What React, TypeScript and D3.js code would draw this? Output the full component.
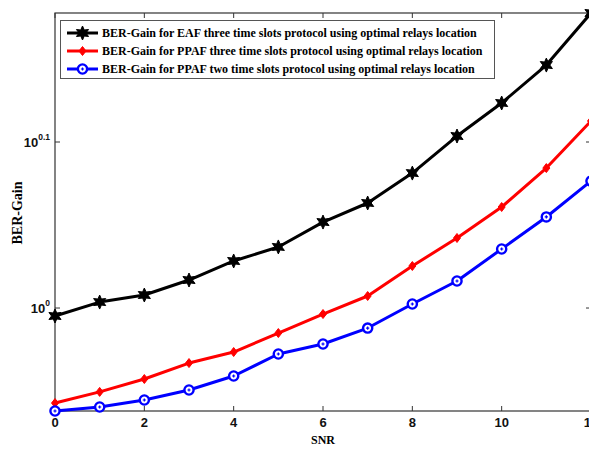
import React from "react";
import * as d3 from "d3";

const W = 589;
const H = 449;

// SNR values on the x axis
const snr = [0, 1, 2, 3, 4, 5, 6, 7, 8, 9, 10, 11, 12];

// BER-Gain series
const eafThree = [0.989, 1.0083, 1.0182, 1.0396, 1.0674, 1.0884, 1.1266, 1.1568, 1.2058, 1.2694, 1.3289, 1.4007, 1.5056];
const ppafThree = [0.8765, 0.8902, 0.9062, 0.9265, 0.9408, 0.9659, 0.9917, 1.0168, 1.06, 1.102, 1.1504, 1.2142, 1.2962];
const ppafTwo = [0.8669, 0.8717, 0.8802, 0.8925, 0.91, 0.9382, 0.9513, 0.9726, 1.0056, 1.0382, 1.0853, 1.1346, 1.1925];

const xTicks = [0, 2, 4, 6, 8, 10, 12];
const yTickExps = [0, 0.1];

const legendLabels = [
  "BER-Gain for EAF three time slots protocol using optimal relays location",
  "BER-Gain for PPAF three time slots protocol using optimal relays location",
  "BER-Gain for PPAF two time slots protocol using optimal relays location",
];

const left = 55;
const right = 591;
const top = 13;
const bottom = 411;

const x = d3.scaleLinear().domain([0, 12]).range([left, right]);
const y = d3.scaleLog().domain([0.8669, 1.5056]).range([bottom, top]);

const line = d3
  .line<number>()
  .x((_, i) => x(snr[i]))
  .y((d) => y(d));

function hexagram(r: number) {
  const pts: [number, number][] = [];
  for (let i = 0; i < 12; i++) {
    const a = (Math.PI / 6) * i - Math.PI / 2;
    const rr = i % 2 === 0 ? r : r * 0.5;
    pts.push([rr * Math.cos(a), rr * Math.sin(a)]);
  }
  return "M" + pts.map((p) => p.join(",")).join("L") + "Z";
}

function Marker({ kind, cx, cy }: { kind: string; cx: number; cy: number }) {
  if (kind === "star") {
    return <path d={hexagram(7)} transform={`translate(${cx},${cy})`} fill="#000" stroke="#000" strokeWidth={1} />;
  }
  if (kind === "diamond") {
    return (
      <path
        d="M0,-4.5L3.5,0L0,4.5L-3.5,0Z"
        transform={`translate(${cx},${cy})`}
        fill="#ff0000"
        stroke="#ff0000"
        strokeWidth={1}
      />
    );
  }
  return (
    <g transform={`translate(${cx},${cy})`}>
      <circle r={4.6} fill="#fff" stroke="#0000ff" strokeWidth={2.4} />
      <path d="M-1.6,0L1.6,0M0,-1.6L0,1.6" stroke="#0000ff" strokeWidth={1.2} />
    </g>
  );
}

const series = [
  { values: eafThree, color: "#000000", marker: "star" },
  { values: ppafThree, color: "#ff0000", marker: "diamond" },
  { values: ppafTwo, color: "#0000ff", marker: "circle" },
];

export default function App() {
  const tickFont = "'Liberation Sans', Arial, sans-serif";
  const serif = "'Liberation Serif', 'Times New Roman', serif";
  return (
    <svg
      width={W}
      height={H}
      style={{ position: "absolute", left: 0, top: 0, background: "#fff" }}
    >
      <defs>
        <clipPath id="plotClip">
          <rect x={left - 8} y={top - 8} width={right - left + 16} height={bottom - top + 16} />
        </clipPath>
      </defs>
      <rect width={W} height={H} fill="#fff" />

      {/* axes box */}
      <rect x={left} y={top} width={right - left} height={bottom - top} fill="none" stroke="#333" strokeWidth={1.2} />

      {/* x ticks, top and bottom */}
      {xTicks.map((t) => (
        <g key={t}>
          <line x1={x(t)} x2={x(t)} y1={bottom} y2={bottom - 5} stroke="#333" />
          <line x1={x(t)} x2={x(t)} y1={top} y2={top + 5} stroke="#333" />
          <text
            x={x(t)}
            y={bottom + 16}
            textAnchor="middle"
            fontFamily={tickFont}
            fontWeight="bold"
            fontSize={13}
            fill="#111"
          >
            {t}
          </text>
        </g>
      ))}

      {/* y ticks, left and right */}
      {yTickExps.map((e) => {
        const yy = y(Math.pow(10, e));
        return (
          <g key={e}>
            <line x1={left} x2={left + 5} y1={yy} y2={yy} stroke="#333" />
            <line x1={right} x2={right - 5} y1={yy} y2={yy} stroke="#333" />
            <text
              x={left - 5}
              y={yy + 4.5}
              textAnchor="end"
              fontFamily={tickFont}
              fontWeight="bold"
              fontSize={13}
              fill="#111"
            >
              10
              <tspan dy={-7} fontSize={8.5}>
                {e === 0 ? "0" : "0.1"}
              </tspan>
            </text>
          </g>
        );
      })}

      {/* series */}
      <g clipPath="url(#plotClip)">
        {series.map((s) => (
          <g key={s.color}>
            <path d={line(s.values) || ""} fill="none" stroke={s.color} strokeWidth={3} strokeLinejoin="round" />
            {s.values.map((v, i) => (
              <Marker key={i} kind={s.marker} cx={x(snr[i])} cy={y(v)} />
            ))}
          </g>
        ))}
      </g>

      {/* legend */}
      <rect x={60.5} y={20.5} width={434} height={58} fill="#fff" stroke="#555" strokeWidth={1} />
      {series.map((s, i) => {
        const ly = 33 + i * 18;
        return (
          <g key={i}>
            <line x1={67} x2={98} y1={ly} y2={ly} stroke={s.color} strokeWidth={3} />
            <Marker kind={s.marker} cx={82.5} cy={ly} />
            <text
              x={102}
              y={ly + 4}
              fontFamily={serif}
              fontWeight="bold"
              fontSize={12}
              fill="#000"
            >
              {legendLabels[i]}
            </text>
          </g>
        );
      })}

      {/* axis labels */}
      <text
        x={x(6)}
        y={444}
        textAnchor="middle"
        fontFamily={serif}
        fontWeight="bold"
        fontSize={12}
        fill="#000"
      >
        SNR
      </text>
      <text
        transform={`translate(22,213) rotate(-90)`}
        textAnchor="middle"
        fontFamily={serif}
        fontWeight="bold"
        fontSize={14}
        fill="#000"
      >
        BER-Gain
      </text>
    </svg>
  );
}
